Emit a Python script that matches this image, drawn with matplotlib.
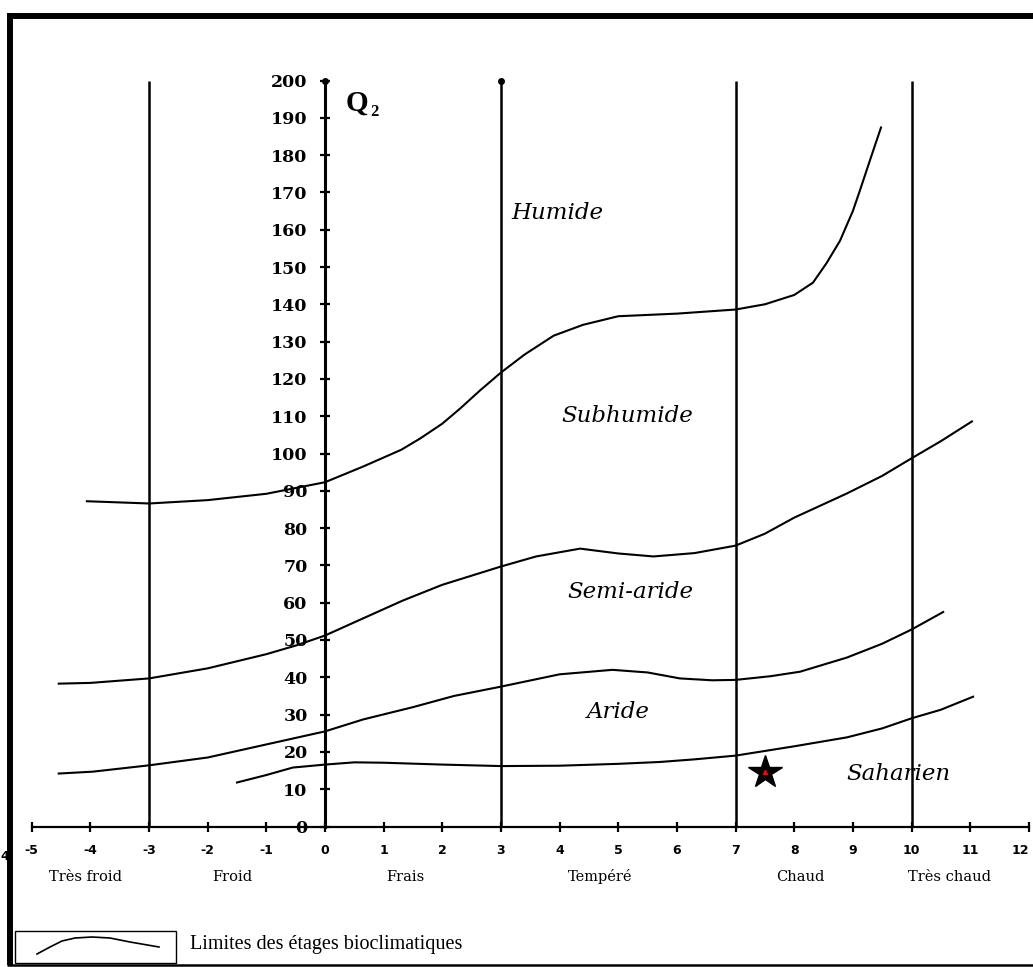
import matplotlib
matplotlib.use('Agg')
import matplotlib.pyplot as plt
from matplotlib.lines import Line2D
from matplotlib.patches import Rectangle

# Emberger climagram data
x_ticks = list(range(-5, 13))
q_ticks = list(range(0, 201, 10))
boundaries = [-3, 3, 7, 10]

# limits between the bioclimatic stages (m in degrees, Q2)
humide_x = [-4.06, -3.0, -2.0, -1.0, 0.0, 0.65, 1.3, 1.62, 2.0, 2.3, 2.65, 3.0, 3.4, 3.9, 4.4, 5.0, 6.0, 7.0, 7.5, 8.0, 8.32, 8.55, 8.78, 9.0, 9.12, 9.3, 9.48]
humide_q = [87.2, 86.6, 87.5, 89.2, 92.3, 96.5, 101, 104, 108, 112, 117, 121.7, 126.5, 131.6, 134.5, 136.8, 137.5, 138.6, 140, 142.5, 145.8, 151, 157, 165, 170.5, 179, 187.4]

subhum_x = [-4.54, -4.0, -3.0, -2.0, -1.0, -0.5, 0.0, 0.65, 1.33, 2.0, 3.0, 3.6, 4.35, 5.0, 5.6, 6.3, 7.0, 7.5, 8.0, 8.9, 9.5, 10.0, 10.5, 11.03]
subhum_q = [38.3, 38.5, 39.7, 42.4, 46.2, 48.5, 51.2, 55.8, 60.6, 64.8, 69.7, 72.4, 74.5, 73.2, 72.4, 73.3, 75.3, 78.5, 82.8, 89.3, 94, 98.7, 103.3, 108.6]

semi_x = [-4.54, -3.96, -3.0, -2.0, -1.0, 0.0, 0.65, 1.5, 2.2, 3.0, 4.0, 4.9, 5.5, 6.05, 6.6, 7.0, 7.6, 8.1, 8.9, 9.5, 10.0, 10.54]
semi_q = [14.2, 14.7, 16.4, 18.5, 22.0, 25.5, 28.7, 32, 35, 37.5, 40.8, 42.0, 41.3, 39.7, 39.2, 39.3, 40.3, 41.5, 45.3, 49, 52.8, 57.5]

aride_x = [-1.5, -1.0, -0.55, 0.0, 0.5, 1.0, 2.0, 3.0, 4.0, 5.0, 5.71, 6.3, 7.0, 8.0, 8.9, 9.5, 10.0, 10.5, 11.05]
aride_q = [11.8, 13.8, 15.8, 16.6, 17.2, 17.1, 16.6, 16.2, 16.3, 16.8, 17.3, 18.0, 19.0, 21.5, 23.9, 26.3, 29.0, 31.3, 34.8]

# station
station_x = [7.5]
station_q = [14.7]

stage_names = ['Humide', 'Subhumide', 'Semi-aride', 'Aride', 'Saharien']
stage_x = [3.96, 5.15, 5.2, 5.0, 9.77]
stage_q = [164.6, 110, 63, 30.7, 14]

winter_names = ['Très froid', 'Froid', 'Frais', 'Tempéré', 'Chaud', 'Très chaud']
winter_x = [-4.08, -1.58, 1.37, 4.69, 8.1, 10.64]

fig = plt.figure(figsize=(10.33, 9.67), dpi=100)
ax = fig.add_axes([0, 0, 1, 1])
ax.set_xlim(-325 / 58.65, 708 / 58.65)
ax.set_ylim((826.5 - 967) / 3.73, 826.5 / 3.73)

# axes crossing at (0, 0)
for s in ['top', 'right']:
    ax.spines[s].set_visible(False)
ax.spines['left'].set_position(('data', 0))
ax.spines['bottom'].set_position(('data', 0))
ax.spines['left'].set_bounds(0, 200)
ax.spines['bottom'].set_bounds(-5, 12)
ax.spines['left'].set_linewidth(2.2)
ax.spines['bottom'].set_linewidth(1.6)

ax.set_xticks(x_ticks)
xl = ax.set_xticklabels([str(v) for v in x_ticks], fontfamily='DejaVu Sans', fontweight='bold', fontsize=9)
xl[-1].set_ha('right')  # last label sits on the right edge
ax.set_yticks(q_ticks)
ax.set_yticklabels([str(v) for v in q_ticks], fontfamily='DejaVu Serif', fontweight='bold', fontsize=12.5)
ax.tick_params(axis='x', direction='inout', length=7, width=1.6, pad=9)
ax.tick_params(axis='y', direction='inout', length=7, width=1.6, pad=9)

# thermal limits
ax.vlines(boundaries, 0, 200, color='black', linewidth=1.8)
ax.plot([0, 3], [200, 200], 'o', color='black', markersize=4)

for xs, qs in [(humide_x, humide_q), (subhum_x, subhum_q), (semi_x, semi_q), (aride_x, aride_q)]:
    ax.plot(xs, qs, color='black', linewidth=1.5, solid_joinstyle='round')

ax.plot(station_x, station_q, marker='*', markersize=25, color='black', linestyle='none')
ax.plot(station_x, station_q, marker='^', markersize=3, color='red', linestyle='none')

for name, x, q in zip(stage_names, stage_x, stage_q):
    ax.text(x, q, name, fontfamily='DejaVu Serif', fontstyle='italic', fontsize=16.5,
            ha='center', va='center')

for name, x in zip(winter_names, winter_x):
    ax.text(x, -13.5, name, fontfamily='DejaVu Serif', fontsize=10.5, ha='center', va='center')

ax.text(0.35, 194, 'Q', fontfamily='Liberation Serif', fontweight='bold', fontsize=21, ha='left', va='center')
ax.text(0.78, 191.5, '2', fontfamily='Liberation Serif', fontweight='bold', fontsize=12, ha='left', va='center')

# legend box
W, H = 1033.0, 967.0
fig.add_artist(Rectangle((15 / W, 1 - 963 / H), 161 / W, 32 / H, transform=fig.transFigure,
                         fill=False, edgecolor='black', linewidth=1.0))
lx = [37, 50, 62, 75, 92, 110, 130, 159]
ly = [954, 947, 941, 938, 937, 938, 942, 947]
fig.add_artist(Line2D([v / W for v in lx], [1 - v / H for v in ly],
                      transform=fig.transFigure, color='black', linewidth=1.2))
fig.text(190 / W, 1 - 944 / H, 'Limites des étages bioclimatiques', fontfamily='Liberation Serif',
         fontsize=14.5, ha='left', va='center')
fig.text(0 / W, 1 - 857 / H, '4', fontfamily='DejaVu Sans', fontweight='bold', fontsize=9, ha='left', va='center')

# outer frame
fig.add_artist(Line2D([10 / W, 10 / W], [1 - 13 / H, 1 - 965 / H], transform=fig.transFigure,
                      color='black', linewidth=4.3, solid_capstyle='butt'))
fig.add_artist(Line2D([7 / W, 1.0], [1 - 16 / H, 1 - 16 / H], transform=fig.transFigure,
                      color='black', linewidth=4.3, solid_capstyle='butt'))
fig.add_artist(Line2D([7 / W, 1.0], [1 - 965 / H, 1 - 965 / H], transform=fig.transFigure,
                      color='black', linewidth=1.8, solid_capstyle='butt'))

fig.savefig('out.png', dpi=100)
